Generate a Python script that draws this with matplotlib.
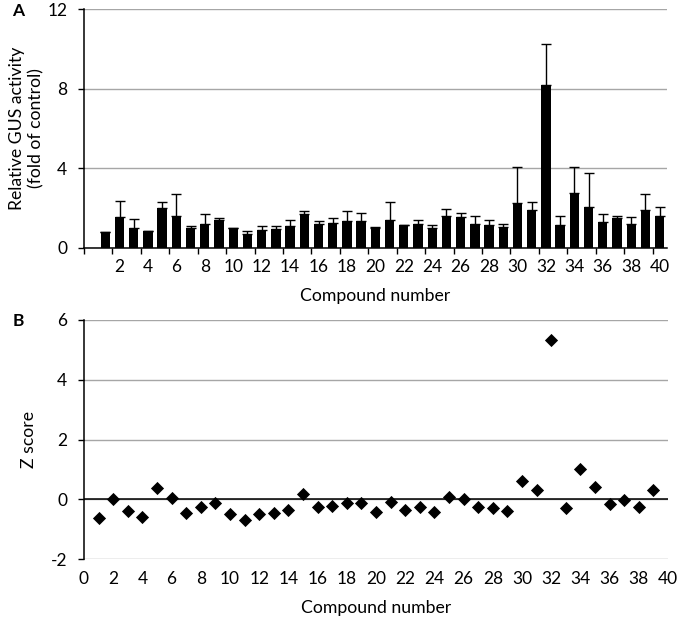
import matplotlib
matplotlib.use("Agg")
import matplotlib.pyplot as plt

plt.rcParams['font.family'] = ['Lato', 'DejaVu Sans']
plt.rcParams['axes.unicode_minus'] = False

# Panel A: relative GUS activity per compound (mean and upper error)
compounds = list(range(1, 41))
gus_mean = [0.79, 1.56, 1.00, 0.87, 1.99, 1.59, 0.99, 1.20, 1.39, 0.99,
            0.70, 0.92, 0.94, 1.09, 1.71, 1.19, 1.26, 1.37, 1.34, 0.99,
            1.41, 1.14, 1.22, 0.99, 1.61, 1.56, 1.22, 1.14, 1.04, 2.26,
            1.91, 8.20, 1.17, 2.76, 2.06, 1.31, 1.51, 1.20, 1.92, 1.61]
gus_err = [0.00, 0.82, 0.44, 0.00, 0.34, 1.10, 0.10, 0.51, 0.10, 0.00,
           0.14, 0.17, 0.15, 0.33, 0.16, 0.15, 0.25, 0.47, 0.40, 0.08,
           0.90, 0.03, 0.20, 0.18, 0.33, 0.18, 0.37, 0.28, 0.15, 1.82,
           0.42, 2.06, 0.44, 1.29, 1.71, 0.40, 0.08, 0.34, 0.81, 0.47]

# Panel B: Z scores (compounds 1-39)
z_compounds = list(range(1, 40))
z_score = [-0.64, 0.02, -0.41, -0.58, 0.38, 0.04, -0.45, -0.26, -0.11, -0.48,
           -0.68, -0.49, -0.47, -0.36, 0.16, -0.27, -0.22, -0.11, -0.13, -0.43,
           -0.08, -0.36, -0.25, -0.42, 0.09, 0.02, -0.25, -0.30, -0.39, 0.60,
           0.30, 5.33, -0.29, 1.00, 0.42, -0.17, -0.01, -0.26, 0.32]

grid_color = '#a6a6a6'
tick_fs = 12.5
label_fs = 12.7
fig = plt.figure(figsize=(6.8, 6.25), dpi=100)

# ---- Panel A ----
ax1 = fig.add_axes([0.1235, 0.6032, 0.857, 0.3824])
ax1.bar(compounds, gus_mean, width=0.66, color='black', zorder=3)
ax1.errorbar(compounds, gus_mean, yerr=[[0] * 40, gus_err], fmt='none',
             ecolor='black', elinewidth=1, capsize=3.5, capthick=1, zorder=4)
ax1.set_xlim(-0.5, 40.5)
ax1.set_ylim(0, 12)
ax1.set_yticks([0, 4, 8, 12])
ax1.set_xticks(range(2, 41, 2))
ax1.set_xticks([-0.5] + [x + 0.5 for x in range(1, 40, 2)], minor=True)
ax1.tick_params(axis='x', which='major', length=0, pad=8, labelsize=tick_fs)
ax1.tick_params(axis='x', which='minor', length=4, width=1, direction='out')
ax1.tick_params(axis='y', length=4, width=1, pad=8, labelsize=tick_fs)
ax1.yaxis.grid(True, color=grid_color, linewidth=1)
ax1.set_axisbelow(True)
for s in ['top', 'right']:
    ax1.spines[s].set_visible(False)
for s in ['left', 'bottom']:
    ax1.spines[s].set_linewidth(1.1)
ax1.set_xlabel('Compound number', fontsize=label_fs, labelpad=9)
ax1.set_ylabel('Relative GUS activity\n(fold of control)', fontsize=label_fs,
               multialignment='center', linespacing=1.25, labelpad=2)
fig.text(0.018, 0.995, 'A', fontsize=12.5, fontweight='bold', va='top')

# ---- Panel B ----
ax2 = fig.add_axes([0.1235, 0.1056, 0.859, 0.3824])
ax2.scatter(z_compounds, z_score, marker='D', s=45, color='black', zorder=4,
            linewidths=0)
ax2.set_xlim(0, 40)
ax2.set_ylim(-2, 6)
ax2.set_yticks([-2, 0, 2, 4, 6])
ax2.set_xticks(range(0, 41, 2))
ax2.tick_params(axis='x', length=0, pad=9, labelsize=tick_fs)
ax2.tick_params(axis='y', length=4, width=1, pad=8, labelsize=tick_fs)
ax2.yaxis.grid(True, color=grid_color, linewidth=1)
ax2.axhline(0, color='black', linewidth=1.1, zorder=3)
ax2.set_axisbelow(True)
for s in ['top', 'right', 'bottom']:
    ax2.spines[s].set_visible(False)
ax2.spines['left'].set_linewidth(1.1)
ax2.set_xlabel('Compound number', fontsize=label_fs, labelpad=9)
ax2.set_ylabel('Z score', fontsize=label_fs, labelpad=10)
fig.text(0.018, 0.5, 'B', fontsize=12.5, fontweight='bold', va='top')

fig.savefig('out.png', dpi=100)
